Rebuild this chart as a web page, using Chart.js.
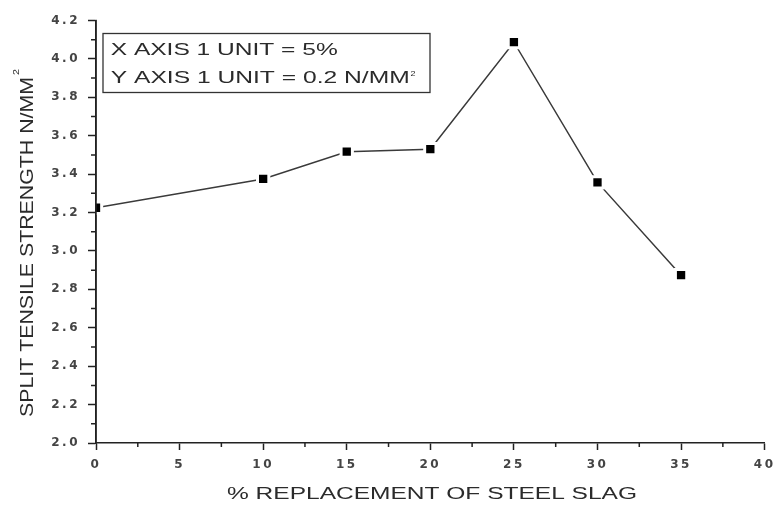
<!DOCTYPE html>
<html><head><meta charset="utf-8">
<script src="https://cdn.jsdelivr.net/npm/chart.js@4.4.0/dist/chart.umd.min.js"></script>
<style>html,body{margin:0;padding:0;background:#fff}#wrap{width:781px;height:507px;position:relative}</style>
</head><body><div id="wrap"><canvas id="c"></canvas></div>
<script>
// ---- data ----
const replacementPct = [0, 10, 15, 20, 25, 30, 35];
const splitTensile   = [3.225, 3.375, 3.517, 3.53, 4.087, 3.357, 2.874];
const xMinorTicks = [2.5, 7.5, 12.5, 17.5, 22.5, 27.5, 32.5, 37.5];
const yMinorTicks = [2.1, 2.3, 2.5, 2.7, 2.9, 3.1, 3.3, 3.5, 3.7, 3.9, 4.1];
const xTitle = '% REPLACEMENT OF STEEL SLAG';
const yTitle = 'SPLIT TENSILE STRENGTH N/MM';
const noteLines = ['X AXIS 1 UNIT = 5%', 'Y AXIS 1 UNIT = 0.2 N/MM'];
const superscript = '2';

const INK = '#2b2b2b';
const FONT = '"Liberation Sans", Arial, sans-serif';

function stretchText(ctx, text, x, y, sizePx, targetW) {
  ctx.save();
  ctx.font = sizePx + 'px ' + FONT;
  try { ctx.letterSpacing = '0px'; } catch (e) {}
  const w = ctx.measureText(text).width;
  ctx.translate(x, y);
  ctx.scale(targetW / w, 1);
  ctx.textAlign = 'left';
  ctx.textBaseline = 'alphabetic';
  ctx.fillStyle = INK;
  ctx.fillText(text, 0, 0);
  ctx.restore();
}

const decor = {
  id: 'decor',
  beforeDraw(chart) {
    try { chart.ctx.letterSpacing = '2.5px'; } catch (e) {}
  },
  afterDraw(chart) {
    const ctx = chart.ctx;
    const xs = chart.scales.x, ys = chart.scales.y;
    const a = chart.chartArea;
    ctx.save();
    try { ctx.letterSpacing = '0px'; } catch (e) {}
    ctx.strokeStyle = '#222';
    ctx.lineWidth = 1.5;
    // minor ticks
    ctx.beginPath();
    xMinorTicks.forEach(v => { const px = xs.getPixelForValue(v); ctx.moveTo(px, a.bottom); ctx.lineTo(px, a.bottom + 4); });
    yMinorTicks.forEach(v => { const py = ys.getPixelForValue(v); ctx.moveTo(a.left, py); ctx.lineTo(a.left - 5, py); });
    ctx.stroke();
    // redraw left axis line over clipped marker halo
    ctx.beginPath();
    ctx.moveTo(a.left, a.top - 0.75); ctx.lineTo(a.left, a.bottom + 0.75);
    ctx.stroke();
    // note box
    ctx.strokeStyle = '#333';
    ctx.lineWidth = 1.3;
    ctx.strokeRect(103, 33.5, 327, 59);
    ctx.restore();
    stretchText(ctx, noteLines[0], 110.7, 54.5, 17, 227);
    stretchText(ctx, noteLines[1], 110.7, 82.5, 17, 299);
    stretchText(ctx, superscript, 410.5, 76, 8, 5);
    // x title
    stretchText(ctx, xTitle, 227, 499, 16, 410);
    // y title (rotated)
    ctx.save();
    ctx.translate(33, 417);
    ctx.rotate(-Math.PI / 2);
    stretchText(ctx, yTitle, 0, 0, 18, 340);
    stretchText(ctx, superscript, 342, -14, 9, 6);
    ctx.restore();
  }
};

new Chart(document.getElementById('c'), {
  type: 'line',
  data: {
    datasets: [{
      data: replacementPct.map((x, i) => ({ x: x, y: splitTensile[i] })),
      borderColor: '#3a3a3a',
      borderWidth: 1.5,
      pointStyle: 'rect',
      pointRadius: 8,
      pointBackgroundColor: '#000',
      pointBorderColor: '#fff',
      pointBorderWidth: 3,
      tension: 0,
      fill: false,
      clip: { left: 0, top: 20, right: 20, bottom: 20 }
    }]
  },
  options: {
    responsive: true,
    maintainAspectRatio: false,
    animation: false,
    events: [],
    layout: { padding: { top: 20.5, right: 11, left: 0, bottom: 0 } },
    plugins: { legend: { display: false }, tooltip: { enabled: false } },
    scales: {
      x: {
        type: 'linear', position: 'bottom', min: 0, max: 40,
        ticks: { stepSize: 5, color: '#444', padding: 8, maxRotation: 0,
                 font: { family: '"DejaVu Sans", sans-serif', size: 12, weight: 'bold' } },
        grid: { display: true, drawOnChartArea: false, drawTicks: true, tickLength: 7, tickColor: '#222', tickWidth: 1.5 },
        border: { display: true, color: '#222', width: 1.5 },
        title: { display: false },
        afterFit(s) { s.height = 64; }
      },
      y: {
        min: 2, max: 4.2,
        ticks: { stepSize: 0.2, color: '#444', padding: 8,
                 callback: v => Number(v).toFixed(1),
                 font: { family: '"DejaVu Sans", sans-serif', size: 12, weight: 'bold' } },
        grid: { display: true, drawOnChartArea: false, drawTicks: true, tickLength: 8, tickColor: '#222', tickWidth: 1.5 },
        border: { display: true, color: '#222', width: 1.5 },
        title: { display: false },
        afterFit(s) { s.width = 96; }
      }
    }
  },
  plugins: [decor]
});
</script>
</body></html>
